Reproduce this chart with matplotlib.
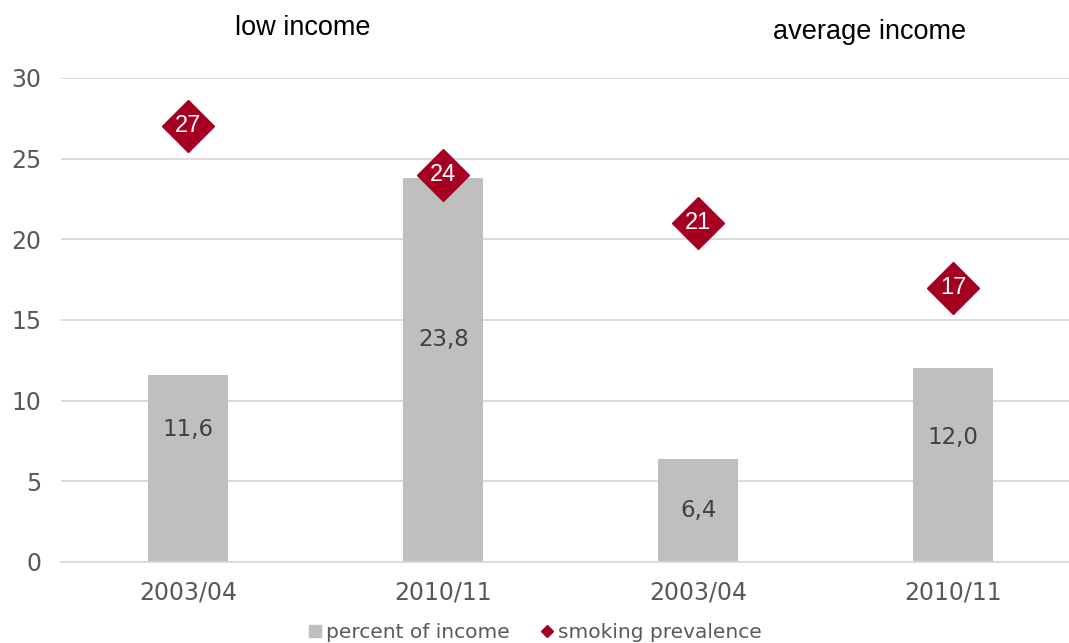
import matplotlib.pyplot as plt

# spending on tobacco and smoking prevalence by income group
periods = ["2003/04", "2010/11", "2003/04", "2010/11"]
groups = ["low income", "average income"]
percent_of_income = [11.6, 23.8, 6.4, 12.0]
smoking_prevalence = [27, 24, 21, 17]

BAR_COLOR = "#bfbfbf"
DIAMOND_COLOR = "#a50021"
TEXT_COLOR = "#595959"
GRID_COLOR = "#d9d9d9"

fig = plt.figure(figsize=(10.69, 6.43), dpi=100)
ax = fig.add_axes([0.057, 0.126, 0.954, 0.7527])

x = list(range(len(periods)))
bars = ax.bar(x, percent_of_income, width=0.314, color=BAR_COLOR,
              label="percent of income", zorder=2)
ax.plot(x, smoking_prevalence, linestyle="none", marker="D", markersize=26.5,
        color=DIAMOND_COLOR, label="smoking prevalence", zorder=3)

# value labels inside the bars (hand-placed heights)
label_heights = [8.2, 13.8, 3.2, 7.7]
for xi, v, h in zip(x, percent_of_income, label_heights):
    ax.text(xi, h, f"{v:.1f}".replace(".", ","), ha="center", va="center",
            fontsize=16.5, color="#404040", zorder=4)

for xi, v in zip(x, smoking_prevalence):
    ax.text(xi, v, str(v), ha="center", va="center", fontsize=17,
            color="white", family="Liberation Sans", zorder=4)

ax.set_xlim(-0.5, 3.5)
ax.set_ylim(0, 30)
ax.set_yticks(range(0, 31, 5))
ax.set_xticks(x)
ax.set_xticklabels(periods)
ax.tick_params(axis="both", length=0, labelsize=17, labelcolor=TEXT_COLOR)
ax.tick_params(axis="x", pad=13)
ax.tick_params(axis="y", pad=14)
ax.grid(axis="y", color=GRID_COLOR, linewidth=1.3, zorder=0)
for side in ["top", "right", "left"]:
    ax.spines[side].set_visible(False)
ax.spines["bottom"].set_color(GRID_COLOR)
ax.spines["bottom"].set_linewidth(1.3)

fig.text(303 / 1069, 1 - 28 / 643, groups[0], ha="center", va="center",
         fontsize=19.5, family="Liberation Sans")
fig.text(870 / 1069, 1 - 32 / 643, groups[1], ha="center", va="center",
         fontsize=19.5, family="Liberation Sans")

handles = [
    plt.Line2D([], [], linestyle="none", marker="s", markersize=9,
               color=BAR_COLOR),
    plt.Line2D([], [], linestyle="none", marker="D", markersize=6.5,
               color=DIAMOND_COLOR),
]
leg = fig.legend(handles, ["percent of income", "smoking prevalence"],
                 loc="center", bbox_to_anchor=(0.501, 1 - 633 / 643), ncol=2,
                 frameon=False, fontsize=14.5, handlelength=0.5,
                 handletextpad=0.3, columnspacing=1.6)
for t in leg.get_texts():
    t.set_color(TEXT_COLOR)

fig.savefig("out.png", dpi=100)
